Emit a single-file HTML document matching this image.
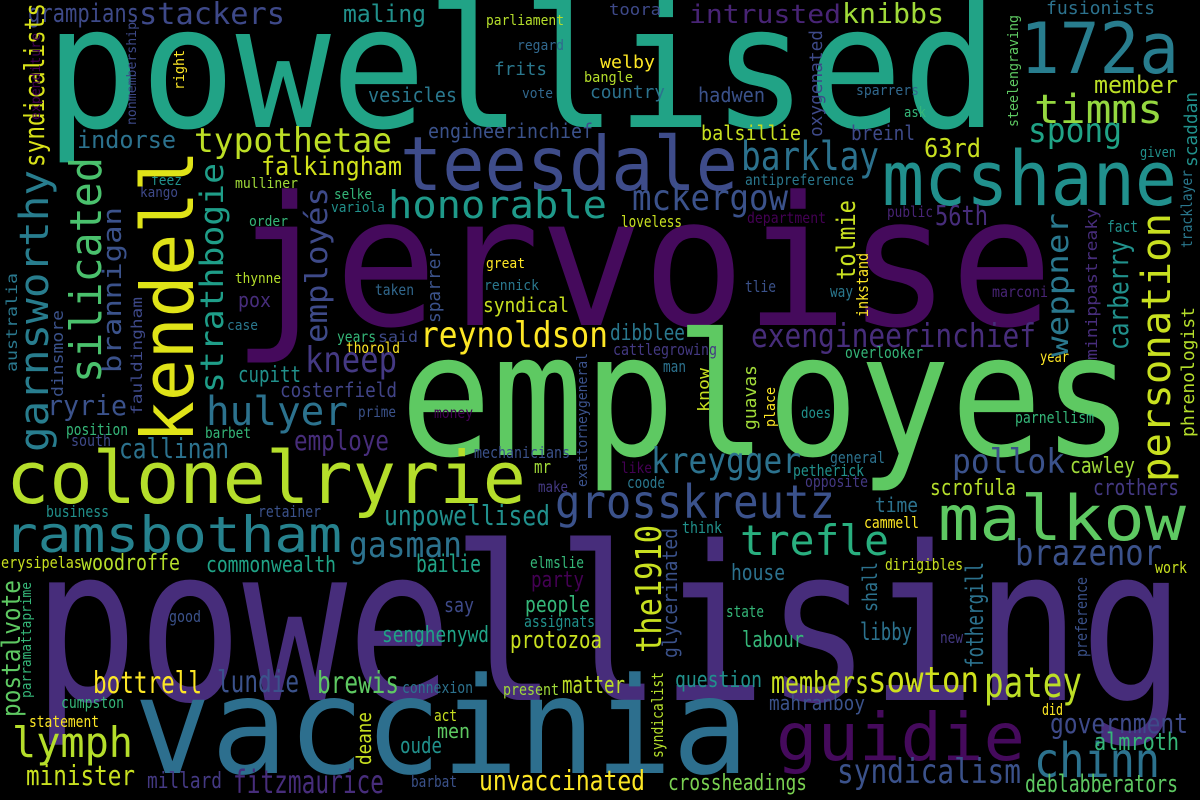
<!DOCTYPE html>
<html><head><meta charset="utf-8"><title>Word cloud</title>
<style>html,body{margin:0;padding:0;background:#000;}svg{display:block;}text{font-family:"DejaVu Sans Mono","Liberation Mono",monospace;}</style>
</head><body>
<svg id="cloud" width="1200" height="800" viewBox="0 0 1200 800" xmlns="http://www.w3.org/2000/svg">
<rect width="1200" height="800" fill="#000"/>
</svg>
<script>
// text, x (left / baseline-x for vertical), y (baseline / start-y for vertical), font size, color, length, vertical flag
const words = ["powellised","jervoise","employes","powellising","vaccinia","teesdale","mcshane","172a","honorable","reynoldson","colonelryrie","ramsbotham","grosskreutz","malkow","guidie","chinn",
"grampians","stackers","maling","parliament","regard","frits","vote","vesicles","indorse","typothetae","engineerinchief","falkingham","feez","mulliner","kango","selke","variola","order","great","thynne","rennick","pox","taken","syndical","case","years","said","thorold","kneep","cupitt","costerfield",
"toora","intrusted","knibbs","fusionists","welby","bangle","country","hadwen","sparrers","ask","member","timms","spong","balsillie","breinl","63rd","barklay","antipreference","given","mckergow","loveless","department","public","56th","fact","tlie","way","marconi","dibblee","exengineerinchief","cattlegrowing","overlooker","year","man",
"ryrie","hulyer","prime","money","position","south","barbet","callinan","employe","mechanicians","mr","make","business","retainer","unpowellised","gasman","erysipelas","woodroffe","commonwealth","bailie","elmslie","party","say","people","assignats","good","senghenywd","protozoa","bottrell","lundie","brewis","connexion","present","matter","cumpston","statement","act","men","oude","lymph","minister","millard","fitzmaurice","barbat","unvaccinated",
"does","parnellism","kreygger","like","general","petherick","opposite","coode","pollok","cawley","scrofula","crothers","trefle","time","think","cammell","brazenor","dirigibles","work","house","state","labour","libby","new","question","members","sowton","patey","mahranboy","did","government","almroth","syndicalism","crossheadings","deblabberators",
"syndicalists","expenditure","nonmembership","right","garnsworthy","silicated","brannigan","kendell","strathbogie","employés","fauldingham","dinsmore","australia","sparrer","exattorneygeneral","oxygenated","steelengraving","scaddan","tracklayer","personation","phrenologist","carberry","minippastreaky","weppner","tolmie","inkstand","guavas","know","place","postalvote","parramattaprime","deane","the1910","glycerinated","shall","fothergill","preference","syndicalist"];
const xs = [45,232,400,33,134,400,882,1020,388,420,6,4,555,938,776,1034,
28,139,343,486,517,494,522,368,77,194,428,261,151,235,140,334,331,249,486,235,484,238,375,483,227,337,378,346,305,238,280,
609,689,842,1046,600,584,590,698,856,904,1094,1034,1028,701,851,924,741,745,1140,632,621,747,887,935,1107,745,830,992,610,751,613,845,1040,663,
47,206,358,434,66,71,205,119,294,474,534,538,46,258,384,349,1,81,206,416,530,531,444,525,524,169,382,510,93,217,317,402,503,562,61,29,434,437,400,12,26,147,233,411,479,
801,1015,651,621,830,793,805,627,952,1070,930,1093,740,875,682,864,1015,885,1155,731,726,742,860,940,675,771,868,984,769,1042,1050,1094,837,668,1025,
44,40,136,184,48,101,121,193,223,327,142,63,17,440,587,822,1018,1197,1192,1170,1194,1128,1097,1068,855,868,756,709,775,20,31,371,661,677,877,983,1087,663];
const ys = [127,325,455,700,773,190,205,73,218,347,503,552,518,540,760,777,
22,24,22,25,50,75,98,102,148,152,138,175,185,188,197,199,212,226,268,283,290,307,295,312,330,342,342,353,372,382,397,
15,23,23,14,68,82,98,102,95,117,93,123,142,140,140,157,170,185,157,210,227,223,217,225,232,292,297,297,340,347,355,358,362,372,
415,425,417,418,435,446,438,458,450,458,473,492,517,517,525,557,568,570,572,572,568,587,612,612,627,622,642,648,693,692,693,693,695,693,708,727,721,738,753,757,785,788,793,787,790,
418,423,473,473,463,476,487,488,473,473,495,495,555,512,533,528,565,570,573,580,617,647,640,643,687,693,692,697,710,715,733,750,783,790,792,
167,120,125,90,452,383,373,443,393,343,415,397,372,323,487,137,127,167,248,482,437,350,360,357,280,317,430,412,427,717,698,765,653,658,612,668,657,758];
const sizes = [170,180,170,215,134,75,76,70,38,36,72,50,46,62,66,48,
26,30,24,14,14,18,14,20,24,34,20,26,14,14,14,14,14,14,14,14,14,20,15,20,14,15,15,15,36,22,20,
16,26,28,18,18,14,18,20,14,14,24,40,34,20,20,26,40,15,14,36,16,15,15,28,16,16,16,15,22,33,16,16,15,16,
28,40,15,15,16,16,15,28,28,16,18,15,16,16,28,36,16,22,22,24,16,22,20,22,16,16,22,24,30,30,30,16,16,24,16,16,16,20,22,42,28,22,32,16,28,
15,16,36,15,16,16,16,16,34,22,22,22,42,20,16,16,36,16,16,22,16,22,24,16,22,30,36,42,20,16,28,24,34,22,24,
28,13,13,14,40,44,26,72,32,30,15,16,15,18,14,18,14,18,15,40,18,28,16,30,26,16,18,16,14,26,14,20,36,20,20,24,16,16];
const colors = ["#21a386","#450a5c","#5ec962","#472d7b","#2d6f8e","#3e4c8a","#21908d","#287d8e","#1f9a8a","#fde725","#b5de2b","#26828e","#3b528b","#5ec962","#450a5c","#2c728e",
"#3e4a89","#3e4989","#21918c","#b5de2b","#31688e","#2a788e","#31688e","#2a788e","#2c728e","#bddf26","#3b528b","#d2e21b","#21918c","#a0da39","#3e4989","#35b779","#21918c","#35b779","#fde725","#b5de2b","#2a788e","#472d7b","#31688e","#c8e020","#2a788e","#35b779","#3e4a89","#fde725","#443983","#21918c","#414487",
"#3e4989","#482475","#a0da39","#2c728e","#fde725","#b5de2b","#2c728e","#3b528b","#31688e","#35b779","#bddf26","#95d840","#20a386","#c8e020","#3e4a89","#c8e020","#2c728e","#2a788e","#21918c","#3b528b","#c8e020","#440154","#482475","#472d7b","#21918c","#3b528b","#2a788e","#482475","#2a788e","#472d7b","#443983","#35b779","#fde725","#2c728e",
"#3b528b","#2c728e","#3b528b","#440154","#35b779","#3e4a89","#35b779","#2c728e","#472d7b","#3b528b","#a0da39","#443983","#21918c","#3b528b","#21908d","#2c728e","#c8e020","#b5de2b","#20a386","#20a386","#35b779","#440154","#3e4a89","#35b779","#21918c","#3b528b","#20a386","#c8e020","#fde725","#3b528b","#5ec962","#2c728e","#a0da39","#bddf26","#35b779","#fde725","#c8e020","#5ec962","#21918c","#b5de2b","#c8e020","#443983","#472d7b","#3b528b","#fde725",
"#21918c","#35b779","#2c728e","#440154","#2c728e","#21918c","#443983","#2a788e","#3b528b","#a0da39","#b5de2b","#443983","#29af7f","#2c728e","#21918c","#fde725","#3b528b","#c8e020","#c8e020","#2c728e","#35b779","#35b779","#2c728e","#443983","#21918c","#c8e020","#d0e11c","#bddf26","#3b528b","#fde725","#3e4a89","#35b779","#3b528b","#7ad151","#5ec962",
"#d8e219","#440154","#3e4a89","#fde725","#287d8e","#4ac16d","#3b528b","#dfe318","#1f9e89","#3e4a89","#3e4989","#3b528b","#2a788e","#3b528b","#3b528b","#3e4a89","#5ec962","#21918c","#2a788e","#c8e020","#b5de2b","#21918c","#472d7b","#2a788e","#c8e020","#fde725","#a0da39","#c8e020","#fde725","#5ec962","#35b779","#c8e020","#c8e020","#3b528b","#2c728e","#2c728e","#3b528b","#b5de2b"];
const lens = [953,821,734,1152,615,338,295,159,219,188,520,338,280,248,249,126,
111,146,83,78,47,53,31,89,99,198,165,141,31,63,38,38,54,39,39,46,55,33,39,86,31,39,40,54,92,63,117,
52,152,102,109,55,49,75,67,63,22,84,129,94,100,64,57,138,109,36,156,61,79,46,53,31,31,23,56,75,285,104,78,29,23,
80,142,38,39,62,40,46,110,95,96,17,30,63,63,166,113,81,99,130,65,54,53,30,65,71,32,107,92,109,82,82,71,56,63,63,70,23,33,42,121,109,75,151,46,166,
30,79,150,31,55,71,63,38,113,65,86,86,149,43,40,55,147,78,32,54,38,62,52,23,87,98,111,98,96,21,138,85,184,139,153,
164,87,103,40,282,226,166,293,230,156,118,87,99,75,134,107,112,75,78,269,130,110,152,144,80,64,65,44,40,137,116,53,128,130,50,106,80,86];
const vert = 161; // index where vertical words begin

const svg = document.getElementById('cloud');
const NS = 'http://www.w3.org/2000/svg';
for (let i = 0; i < words.length; i++) {
  const t = document.createElementNS(NS, 'text');
  t.textContent = words[i];
  t.setAttribute('font-size', sizes[i]);
  t.setAttribute('fill', colors[i]);
  t.setAttribute('textLength', lens[i]);
  t.setAttribute('lengthAdjust', 'spacingAndGlyphs');
  if (i >= vert) {
    t.setAttribute('x', 0);
    t.setAttribute('y', 0);
    t.setAttribute('transform', 'translate(' + xs[i] + ',' + ys[i] + ') rotate(-90)');
  } else {
    t.setAttribute('x', xs[i]);
    t.setAttribute('y', ys[i]);
  }
  
  
  svg.appendChild(t);
}
</script>
</body></html>
